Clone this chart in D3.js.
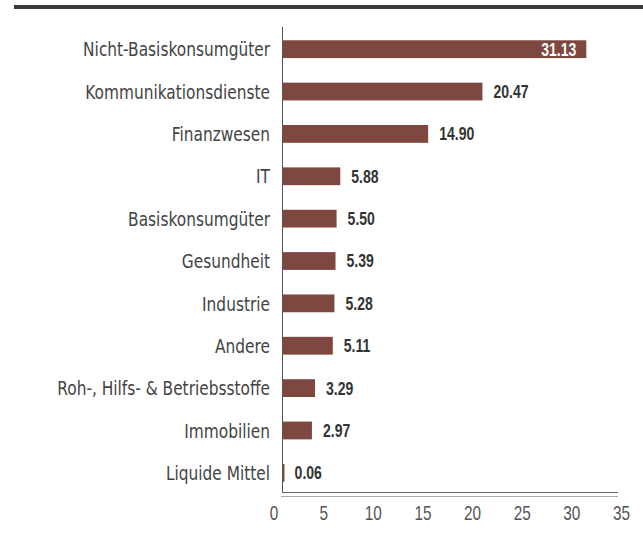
<!DOCTYPE html>
<html>
    <head>
        <script type="text/javascript" src="https://cdn.jsdelivr.net/npm/d3@7"></script>
        <style type="text/css">
            body { margin: 0; background: white; }
            text { font-family: "Liberation Sans", sans-serif; }
            text.cat { font-family: "DejaVu Sans", sans-serif; }
        </style>
    </head>
    <body>
        <script type="text/javascript">

            // data
            var categories = ["Nicht-Basiskonsumgüter", "Kommunikationsdienste", "Finanzwesen", "IT",
                              "Basiskonsumgüter", "Gesundheit", "Industrie", "Andere",
                              "Roh-, Hilfs- & Betriebsstoffe", "Immobilien", "Liquide Mittel"];
            var values = [31.13, 20.47, 14.90, 5.88, 5.50, 5.39, 5.28, 5.11, 3.29, 2.97, 0.06];
            var ticks = [0, 5, 10, 15, 20, 25, 30, 35];

            var w = 643, h = 534;

            var svg = d3.select("body").append("svg")
                        .attr("width", w)
                        .attr("height", h);

            // dark rule at top
            svg.append("rect")
               .attr("x", 14).attr("y", 5)
               .attr("width", w - 14).attr("height", 4)
               .attr("fill", "#3b3b3b");

            var x = d3.scaleLinear().domain([0, 35]).range([283, 624]);
            var xt = d3.scaleLinear().domain([0, 35]).range([274, 621.5]); // tick labels sit a bit left
            var y = d3.scaleBand().domain(categories).range([28, 494]).paddingInner(0.58).paddingOuter(0.29);

            // bars
            svg.selectAll("rect.bar")
               .data(values)
               .enter()
               .append("rect")
               .attr("class", "bar")
               .attr("x", x(0))
               .attr("y", function(d, i) { return y(categories[i]); })
               .attr("width", function(d) { return Math.max(1.5, x(d) - x(0)); })
               .attr("height", y.bandwidth())
               .attr("fill", "#7e4841");

            // value labels (condensed look via horizontal scale)
            svg.selectAll("text.val")
               .data(values)
               .enter()
               .append("text")
               .attr("class", "val")
               .attr("transform", function(d, i) {
                   var tx = i == 0 ? x(d) - 10 : x(d) + 11;
                   var ty = y(categories[i]) + y.bandwidth() / 2;
                   return "translate(" + tx + "," + ty + ") scale(0.78,1)";
               })
               .attr("dy", "0.36em")
               .attr("text-anchor", function(d, i) { return i == 0 ? "end" : "start"; })
               .attr("font-size", "18px")
               .attr("font-weight", "bold")
               .attr("fill", function(d, i) { return i == 0 ? "white" : "#333"; })
               .text(function(d) { return d3.format(".2f")(d); });

            // category labels
            svg.selectAll("text.cat")
               .data(categories)
               .enter()
               .append("text")
               .attr("class", "cat")
               .attr("transform", function(d) {
                   return "translate(270," + (y(d) + y.bandwidth() / 2) + ") scale(0.77,1)";
               })
               .attr("dy", "0.36em")
               .attr("text-anchor", "end")
               .attr("font-size", "20px")
               .attr("fill", "#444")
               .text(function(d) { return d; });

            // axes lines
            svg.append("line")
               .attr("x1", 282.5).attr("x2", 282.5)
               .attr("y1", 27).attr("y2", 493)
               .attr("stroke", "#555").attr("stroke-width", 1);
            svg.append("line")
               .attr("x1", 282).attr("x2", 618)
               .attr("y1", 492.5).attr("y2", 492.5)
               .attr("stroke", "#666").attr("stroke-width", 1);
            svg.append("line")
               .attr("x1", 281).attr("x2", 618)
               .attr("y1", 496.5).attr("y2", 496.5)
               .attr("stroke", "#aaa").attr("stroke-width", 1);

            // tick labels
            svg.selectAll("text.tick")
               .data(ticks)
               .enter()
               .append("text")
               .attr("class", "tick")
               .attr("transform", function(d) { return "translate(" + xt(d) + ",520) scale(0.73,1)"; })
               .attr("text-anchor", "middle")
               .attr("font-size", "21px")
               .attr("fill", "#555")
               .text(function(d) { return d; });

        </script>
    </body>
</html>
